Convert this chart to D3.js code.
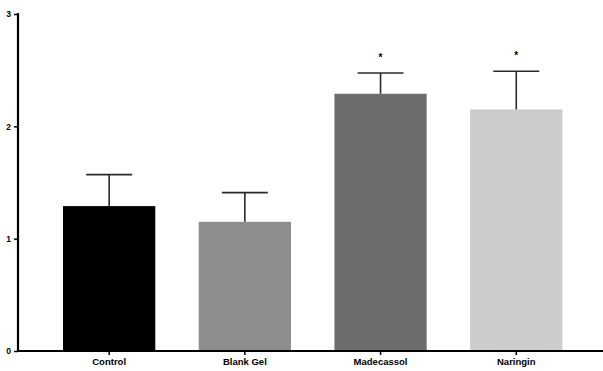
<html>
<head>
  <meta charset="utf-8" />
  <script src="https://cdnjs.cloudflare.com/ajax/libs/d3/7.8.5/d3.min.js"></script>
  <style>
    body { margin: 0; background: #fff; }
    text { font-family: "Liberation Sans", Arial, sans-serif; font-weight: bold; }
  </style>
</head>
<body>
  <svg width="603" height="371"></svg>
  <script>
  const groups = ["Control", "Blank Gel", "Madecassol", "Naringin"];
  const means  = [1.29, 1.15, 2.29, 2.15];
  const errs   = [0.28, 0.26, 0.185, 0.34];
  const stars  = ["", "", "*", "*"];
  const yTicks = [0, 1, 2, 3];
  const colors = ["#000000", "#8e8e91", "#6d6d6d", "#cccccc"];

  const svg = d3.select("svg");
  const x0 = 18, y0 = 351;

  const x = d3.scaleBand().domain(groups).range([41.3, 584.1]).paddingInner(0.32).paddingOuter(0.16);
  const y = d3.scaleLinear().domain([0, 3]).range([y0, 14]);

  // bars
  svg.selectAll("rect.bar")
    .data(groups)
    .enter()
    .append("rect")
      .attr("class", "bar")
      .attr("x", d => x(d))
      .attr("width", x.bandwidth())
      .attr("y", (d, i) => y(means[i]))
      .attr("height", (d, i) => y0 - y(means[i]))
      .style("fill", (d, i) => colors[i])

  // error bars (upper only)
  const cx = d => x(d) + x.bandwidth() / 2;
  svg.selectAll("line.err")
    .data(groups)
    .enter()
    .append("line")
      .attr("x1", cx).attr("x2", cx)
      .attr("y1", (d, i) => y(means[i]))
      .attr("y2", (d, i) => y(means[i] + errs[i]))
      .attr("stroke", "#2b2b2b").attr("stroke-width", 1.6)
  svg.selectAll("line.cap")
    .data(groups)
    .enter()
    .append("line")
      .attr("x1", d => cx(d) - 23).attr("x2", d => cx(d) + 23)
      .attr("y1", (d, i) => y(means[i] + errs[i]))
      .attr("y2", (d, i) => y(means[i] + errs[i]))
      .attr("stroke", "#2b2b2b").attr("stroke-width", 1.6)

  // significance stars
  svg.selectAll("text.star")
    .data(groups)
    .enter()
    .append("text")
      .attr("x", cx)
      .attr("y", (d, i) => y(means[i] + errs[i]) - 12)
      .attr("text-anchor", "middle")
      .style("font-size", "10px")
      .text((d, i) => stars[i])

  // axes
  svg.append("line")
    .attr("x1", x0).attr("x2", 603).attr("y1", y0).attr("y2", y0)
    .attr("stroke", "#000").attr("stroke-width", 2.2)
  svg.append("line")
    .attr("x1", x0).attr("x2", x0).attr("y1", y(3) - 1).attr("y2", y0)
    .attr("stroke", "#000").attr("stroke-width", 2.2)

  const yAxis = d3.axisLeft(y).tickValues(yTicks).tickSize(4).tickPadding(3).tickFormat(d3.format("d"));
  const yg = svg.append("g").attr("transform", `translate(${x0},0)`).call(yAxis);
  yg.select(".domain").remove();
  yg.selectAll(".tick line").attr("stroke-width", 1.5);
  yg.selectAll(".tick text").style("font-size", "8.5px").style("fill", "#000");

  const xAxis = d3.axisBottom(x).tickSize(4).tickPadding(3);
  const xg = svg.append("g").attr("transform", `translate(0,${y0})`).call(xAxis);
  xg.select(".domain").remove();
  xg.selectAll(".tick line").attr("stroke-width", 1.5);
  xg.selectAll(".tick text").style("font-size", "9.5px").style("fill", "#000");
  </script>
</body>
</html>
